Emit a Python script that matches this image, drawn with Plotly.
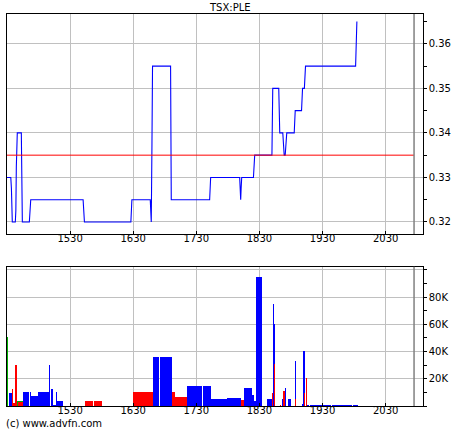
import plotly.graph_objects as go

# ---------------- data ----------------
title_text = "TSX:PLE"
credit_text = "(c) www.advfn.com"

price_x = [1430, 1436, 1437, 1437.8, 1438.4, 1443.2, 1444, 1444.8, 1446.3, 1452.7,
           1453.8, 1454.3, 1465.4, 1466, 1467.6, 1550.6, 1551.3, 1552.7, 1626.3, 1626.8,
           1627.9, 1657, 1657.3, 1658.2, 1658.6, 1659.7, 1660.6, 1689.2, 1689.6, 1690.3,
           1751.1, 1751.6, 1752.7, 1798.7, 1799.2, 1800.3, 1801, 1801.9, 1820.5, 1821,
           1822.5, 1849.8, 1850.5, 1851.1, 1860.6, 1861.2, 1862.2, 1867, 1867.8, 1869.2,
           1870.8, 1871.6, 1873.3, 1885.1, 1885.6, 1886.7, 1896.7, 1897.3, 1898.3, 1901.2,
           1901.8, 1903, 1982.4, 1983, 1984.4]
price_y = [0.33, 0.33, 0.3275, 0.3225, 0.32, 0.32, 0.3225, 0.3325, 0.34, 0.34,
           0.33, 0.32, 0.32, 0.3225, 0.325, 0.325, 0.3225, 0.32, 0.32, 0.3225,
           0.325, 0.325, 0.3225, 0.3225, 0.32, 0.3375, 0.355, 0.355, 0.34, 0.325,
           0.325, 0.3275, 0.33, 0.33, 0.3275, 0.325, 0.3275, 0.33, 0.33, 0.3325,
           0.335, 0.335, 0.3425, 0.35, 0.35, 0.345, 0.34, 0.34, 0.3375, 0.335,
           0.335, 0.3365, 0.34, 0.34, 0.3425, 0.345, 0.345, 0.3475, 0.35, 0.35,
           0.3525, 0.355, 0.355, 0.36, 0.365]

reference_price = 0.335
session_end = 2075

vol_start = [1430, 1433.2, 1437.9, 1439.5, 1442.7, 1445.9, 1447.5, 1455.9, 1466, 1467,
             1479.2, 1496.7, 1499.8, 1502.5, 1507.8, 1509.4, 1553.8, 1568.1, 1628.9, 1661.7,
             1671.7, 1691.4, 1695, 1696.7, 1715.7, 1740, 1753.3, 1772.4, 1778.7, 1801.4,
             1805.1, 1807.8, 1818.9, 1822.1, 1824.1, 1842.7, 1847.9, 1850.6, 1852.2, 1853.3,
             1853.3, 1863.3, 1865.4, 1869.8, 1867.1, 1875.6, 1887.1, 1887.1, 1897.8, 1899.8,
             1901, 1903, 1904.6, 1910, 1944.3, 1977.6]
vol_end = [1431.6, 1437.9, 1439.5, 1442.7, 1445.9, 1455.9, 1455.9, 1464.9, 1467, 1479.2,
           1496.7, 1498.4, 1502.5, 1507.8, 1509.4, 1518.9, 1566.5, 1580.3, 1661.7, 1670.2,
           1691.4, 1694, 1696.7, 1715.2, 1739, 1753.3, 1772.4, 1778.7, 1801.4, 1805.1,
           1806.2, 1818.9, 1822.1, 1824.1, 1834.8, 1847.9, 1850.6, 1852.2, 1853.3, 1854.9,
           1854.9, 1864.4, 1866.5, 1870.9, 1870.3, 1879.3, 1888.2, 1888.2, 1899.4, 1901,
           1902.5, 1904, 1908.4, 1942.9, 1976, 1985.5]
vol_value = [50500, 9500, 12700, 2200, 29800, 3600, 3000, 10000, 10000, 7000,
             10000, 29800, 12700, 1000, 10000, 3400, 3500, 3500, 10500, 36000,
             36000, 10500, 10500, 6800, 14700, 14700, 5000, 5000, 5700, 4400,
             13500, 13000, 8000, 3900, 94400, 5000, 5500, 9800, 74800, 60000,
             30900, 1000, 5000, 13500, 11000, 5000, 33000, 5000, 1500, 40400,
             9800, 20600, 1000, 1000, 1000, 1000]
vol_dir = ["flat", "up", "down", "down", "down", "flat", "down", "up", "up", "up",
           "up", "up", "up", "up", "up", "up", "down", "down", "down", "up",
           "up", "down", "down", "down", "up", "up", "up", "up", "up", "down",
           "up", "up", "up", "up", "up", "up", "up", "down", "up", "up",
           "down", "down", "up", "up", "down", "up", "up", "down", "up", "up",
           "down", "down", "up", "up", "up", "up"]

x_ticks = [1530, 1630, 1730, 1830, 1930, 2030]
vol_ticks = [20000, 40000, 60000, 80000, 100000]
vol_tick_text = ["20K", "40K", "60K", "80K", ""]

# ---------------- figure ----------------
W, H = 460, 430
x_dom = [7 / W, 422.7 / W]
top_dom = [1 - 234 / H, 1 - 14 / H]
bot_dom = [1 - 406 / H, 1 - 266.7 / H]
x_range = [1430, 2088.7]

fig = go.Figure()

fig.add_trace(go.Scatter(x=price_x, y=price_y, mode="lines",
                         line=dict(color="#0000ff", width=1.1),
                         xaxis="x", yaxis="y", hoverinfo="skip", showlegend=False))

colors = {"flat": "#00b000", "up": "#0000ff", "down": "#ff0000"}
for d in ["flat", "up", "down"]:
    xs, ys, ws = [], [], []
    for s, e, v, dd in zip(vol_start, vol_end, vol_value, vol_dir):
        if dd != d:
            continue
        w = max(e - s, 1.6)
        xs.append(s + w / 2)
        ys.append(v)
        ws.append(w)
    fig.add_trace(go.Bar(x=xs, y=ys, width=ws,
                         marker=dict(color=colors[d], line=dict(width=0)),
                         xaxis="x2", yaxis="y2", hoverinfo="skip", showlegend=False))

font = dict(family="DejaVu Sans", size=10, color="#000000")
common_x = dict(range=x_range, tickvals=x_ticks, showgrid=True, gridcolor="#c0c0c0",
                gridwidth=1, showline=True, linecolor="#000000", linewidth=1,
                mirror=True, ticks="inside", ticklen=3, tickcolor="#000000",
                ticklabelstandoff=-5,
                zeroline=False, automargin=False, tickfont=font, fixedrange=True)

fig.update_layout(
    width=W, height=H,
    margin=dict(l=0, r=0, t=0, b=0),
    paper_bgcolor="#ffffff", plot_bgcolor="#ffffff",
    barmode="overlay", bargap=0,
    showlegend=False,
    xaxis=dict(domain=x_dom, anchor="y", **common_x),
    xaxis2=dict(domain=x_dom, anchor="y2", **common_x),
    yaxis=dict(domain=top_dom, anchor="x", side="right",
               range=[0.3173, 0.3667], tick0=0.32, dtick=0.01, tickformat=".2f",
               showgrid=True, gridcolor="#c0c0c0", gridwidth=1,
               showline=True, linecolor="#000000", linewidth=1, mirror=True,
               ticks="outside", ticklen=3, tickcolor="#000000",
               minor=dict(dtick=0.005, tick0=0.32, ticks="outside", ticklen=3,
                          tickcolor="#000000", showgrid=False),
               zeroline=False, automargin=False, tickfont=font, fixedrange=True),
    yaxis2=dict(domain=bot_dom, anchor="x2", side="right",
                range=[0, 102300], tickvals=vol_ticks, ticktext=vol_tick_text,
                showgrid=True, gridcolor="#c0c0c0", gridwidth=1,
                showline=True, linecolor="#000000", linewidth=1, mirror=True,
                ticks="outside", ticklen=3, tickcolor="#000000", layer="below traces",
                minor=dict(dtick=10000, tick0=0, ticks="outside", ticklen=3,
                           tickcolor="#000000", showgrid=False),
                zeroline=False, automargin=False, tickfont=font, fixedrange=True),
)

# reference price line and session-end marker
fig.add_shape(type="line", xref="x", yref="y", x0=x_range[0], x1=session_end,
              y0=reference_price, y1=reference_price,
              line=dict(color="#ff0000", width=1))
for dom in (top_dom, bot_dom):
    fig.add_shape(type="line", xref="x", yref="paper", x0=session_end, x1=session_end,
                  y0=dom[0], y1=dom[1], line=dict(color="#808080", width=1.5))

fig.add_annotation(text=title_text, xref="paper", yref="paper", x=230 / W, y=1 - 7 / H,
                   xanchor="center", yanchor="middle", showarrow=False,
                   font=dict(family="DejaVu Sans", size=10, color="#000000"))
fig.add_annotation(text=credit_text, xref="paper", yref="paper", x=4 / W, y=1 - 423 / H,
                   xanchor="left", yanchor="middle", showarrow=False,
                   font=dict(family="DejaVu Sans", size=10, color="#000000"))

fig.write_html("out.html", config={"displayModeBar": False, "staticPlot": True},
               post_script="document.body.style.margin='0';document.body.style.overflow='hidden';")
